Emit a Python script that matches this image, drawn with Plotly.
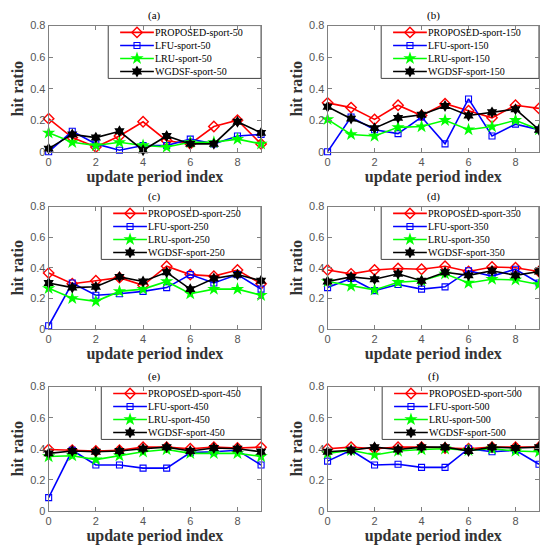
import plotly.graph_objects as go

W, H = 540, 555

# ---------------- data ----------------
x_idx = list(range(10))
panel_labels = ["(a)", "(b)", "(c)", "(d)", "(e)", "(f)"]
sizes = [50, 150, 250, 350, 450, 500]
methods = ["PROPOSED", "LFU", "LRU", "WGDSF"]
xtick_vals = [0, 2, 4, 6, 8]
ytick_vals = [0, 0.2, 0.4, 0.6, 0.8]
ytick_text = ["0", "0.2", "0.4", "0.6", "0.8"]

proposed_50 = [0.21, 0.09, 0.03, 0.10, 0.19, 0.07, 0.05, 0.16, 0.20, 0.05]
lfu_50 = [0.00, 0.13, 0.05, 0.01, 0.04, 0.04, 0.08, 0.05, 0.10, 0.11]
lru_50 = [0.12, 0.06, 0.04, 0.06, 0.04, 0.03, 0.06, 0.06, 0.08, 0.05]
wgdsf_50 = [0.02, 0.11, 0.09, 0.13, 0.01, 0.10, 0.05, 0.05, 0.19, 0.12]

proposed_150 = [0.31, 0.28, 0.205, 0.295, 0.23, 0.305, 0.26, 0.215, 0.295, 0.275]
lfu_150 = [0.00, 0.22, 0.14, 0.115, 0.22, 0.05, 0.335, 0.10, 0.175, 0.14]
lru_150 = [0.205, 0.11, 0.10, 0.155, 0.16, 0.20, 0.14, 0.16, 0.20, 0.14]
wgdsf_150 = [0.285, 0.21, 0.15, 0.215, 0.235, 0.29, 0.23, 0.25, 0.27, 0.14]

proposed_250 = [0.365, 0.295, 0.315, 0.335, 0.285, 0.41, 0.355, 0.345, 0.385, 0.295]
lfu_250 = [0.02, 0.30, 0.22, 0.23, 0.245, 0.27, 0.355, 0.30, 0.355, 0.26]
lru_250 = [0.265, 0.20, 0.18, 0.245, 0.26, 0.31, 0.23, 0.26, 0.26, 0.22]
wgdsf_250 = [0.30, 0.27, 0.275, 0.34, 0.31, 0.37, 0.26, 0.33, 0.355, 0.315]

proposed_350 = [0.385, 0.36, 0.385, 0.395, 0.39, 0.41, 0.375, 0.405, 0.40, 0.375]
lfu_350 = [0.27, 0.33, 0.25, 0.29, 0.26, 0.275, 0.38, 0.345, 0.39, 0.30]
lru_350 = [0.31, 0.28, 0.255, 0.305, 0.315, 0.36, 0.30, 0.325, 0.32, 0.29]
wgdsf_350 = [0.31, 0.34, 0.325, 0.36, 0.315, 0.37, 0.35, 0.38, 0.35, 0.375]

proposed_450 = [0.395, 0.39, 0.385, 0.39, 0.41, 0.41, 0.40, 0.41, 0.405, 0.41]
lfu_450 = [0.085, 0.39, 0.295, 0.295, 0.275, 0.275, 0.375, 0.38, 0.39, 0.295]
lru_450 = [0.35, 0.355, 0.33, 0.355, 0.38, 0.395, 0.37, 0.37, 0.37, 0.35]
wgdsf_450 = [0.37, 0.385, 0.38, 0.385, 0.40, 0.41, 0.385, 0.405, 0.40, 0.38]

proposed_500 = [0.40, 0.41, 0.40, 0.41, 0.41, 0.405, 0.40, 0.41, 0.41, 0.41]
lfu_500 = [0.32, 0.39, 0.295, 0.30, 0.28, 0.28, 0.40, 0.38, 0.39, 0.30]
lru_500 = [0.37, 0.39, 0.36, 0.385, 0.395, 0.40, 0.39, 0.40, 0.385, 0.38]
wgdsf_500 = [0.38, 0.39, 0.41, 0.395, 0.41, 0.41, 0.385, 0.41, 0.405, 0.41]

panel_series = [
    [proposed_50, lfu_50, lru_50, wgdsf_50],
    [proposed_150, lfu_150, lru_150, wgdsf_150],
    [proposed_250, lfu_250, lru_250, wgdsf_250],
    [proposed_350, lfu_350, lru_350, wgdsf_350],
    [proposed_450, lfu_450, lru_450, wgdsf_450],
    [proposed_500, lfu_500, lru_500, wgdsf_500],
]

# ---------------- styles ----------------
styles = {
    "PROPOSED": dict(color="#ff0000", symbol="diamond-open", size=8, mlw=1.4),
    "LFU": dict(color="#0000ff", symbol="square-open", size=6, mlw=1.1),
    "LRU": dict(color="#00ff00", symbol="star", size=10, mlw=0),
    "WGDSF": dict(color="#000000", symbol="hexagram", size=9, mlw=0),
}
SERIF = "Liberation Serif"
SANS = "Liberation Sans"
AX_COLOR = "#808080"
TICK_FONT = dict(family=SANS, size=11, color="#555555")

col_px = [(46, 260), (327, 540)]
row_px = [(20, 149), (205, 330), (389, 516)]
legend_left_px = [106, 381, 99, 381, 99, 382]
legend_h = 54
row_step = 13.3

fig = go.Figure()
layout = dict(
    width=W, height=H,
    margin=dict(l=0, r=0, t=0, b=0),
    paper_bgcolor="white", plot_bgcolor="white",
    showlegend=False,
    annotations=[],
)

for k in range(6):
    r, c = divmod(k, 2)
    x0, x1 = col_px[c]
    y0, y1 = row_px[r]
    n = k + 1
    m = k + 7
    xs = "" if n == 1 else str(n)
    xd = [x0 / W, x1 / W]
    yd = [1 - y1 / H, 1 - y0 / H]

    layout[f"xaxis{xs}"] = dict(
        domain=xd, anchor=f"y{xs}", range=[0, 9],
        tickvals=xtick_vals, ticks="inside", ticklen=4, tickcolor=AX_COLOR,
        showline=True, linecolor=AX_COLOR, linewidth=1, mirror="ticks",
        showgrid=False, zeroline=False, tickfont=TICK_FONT,
        title=dict(text="update period index", standoff=0,
                   font=dict(family=SERIF, size=16, color="#333333", weight="bold")),
    )
    layout[f"yaxis{xs}"] = dict(
        domain=yd, anchor=f"x{xs}", range=[0, 0.8],
        tickvals=ytick_vals, ticktext=ytick_text, ticks="inside", ticklen=4,
        tickcolor=AX_COLOR, showline=True, linecolor=AX_COLOR, linewidth=1,
        mirror="ticks", showgrid=False, zeroline=False, tickfont=TICK_FONT,
        title=dict(text="hit ratio", standoff=2,
                   font=dict(family=SERIF, size=16, color="#333333", weight="bold")),
    )
    # overlay axes in pixel offsets for the legend box
    layout[f"xaxis{m}"] = dict(overlaying=f"x{xs}", anchor=f"y{m}", range=[0, x1 - x0],
                               visible=False, fixedrange=True)
    layout[f"yaxis{m}"] = dict(overlaying=f"y{xs}", anchor=f"x{m}", range=[y1 - y0, 0],
                               visible=False, fixedrange=True)

    # data traces
    for meth, vals in zip(methods, panel_series[k]):
        st = styles[meth]
        fig.add_trace(go.Scatter(
            x=x_idx, y=vals, mode="lines+markers", name=f"{meth}-sport-{sizes[k]}",
            xaxis=f"x{xs}", yaxis=f"y{xs}", cliponaxis=False,
            line=dict(color=st["color"], width=1.6),
            marker=dict(symbol=st["symbol"], size=st["size"], color=st["color"],
                        line=dict(color=st["color"], width=st["mlw"])),
            hoverinfo="skip",
        ))

    # legend box
    bl = legend_left_px[k] - x0
    br = x1 - x0
    fig.add_trace(go.Scatter(
        x=[bl, br, br, bl, bl], y=[0, 0, legend_h, legend_h, 0],
        mode="lines", fill="toself", fillcolor="white",
        line=dict(color="#404040", width=1),
        xaxis=f"x{m}", yaxis=f"y{m}", hoverinfo="skip",
    ))
    for i, meth in enumerate(methods):
        st = styles[meth]
        yy = 7 + row_step * i
        fig.add_trace(go.Scatter(
            x=[bl + 12, bl + 46], y=[yy, yy], mode="lines",
            line=dict(color=st["color"], width=1.6),
            xaxis=f"x{m}", yaxis=f"y{m}", hoverinfo="skip",
        ))
        fig.add_trace(go.Scatter(
            x=[bl + 29], y=[yy], mode="markers",
            marker=dict(symbol=st["symbol"], size=st["size"], color=st["color"],
                        line=dict(color=st["color"], width=st["mlw"])),
            xaxis=f"x{m}", yaxis=f"y{m}", hoverinfo="skip",
        ))
        layout["annotations"].append(dict(
            x=bl + 45, y=yy, xref=f"x{m}", yref=f"y{m}", xanchor="left", yanchor="middle",
            text=f"{meth}-sport-{sizes[k]}", showarrow=False,
            font=dict(family=SERIF, size=10, color="black"),
        ))

    # panel label
    layout["annotations"].append(dict(
        x=(x0 + x1) / 2 / W, y=1 - (y0 - 10) / H, xref="paper", yref="paper",
        xanchor="center", yanchor="middle", text=panel_labels[k], showarrow=False,
        font=dict(family=SERIF, size=11, color="black"),
    ))

fig.update_layout(**layout)
fig.write_html(
    "out.html",
    config={"displayModeBar": False},
    post_script="document.body.style.margin='0';document.body.style.overflow='hidden';",
)
